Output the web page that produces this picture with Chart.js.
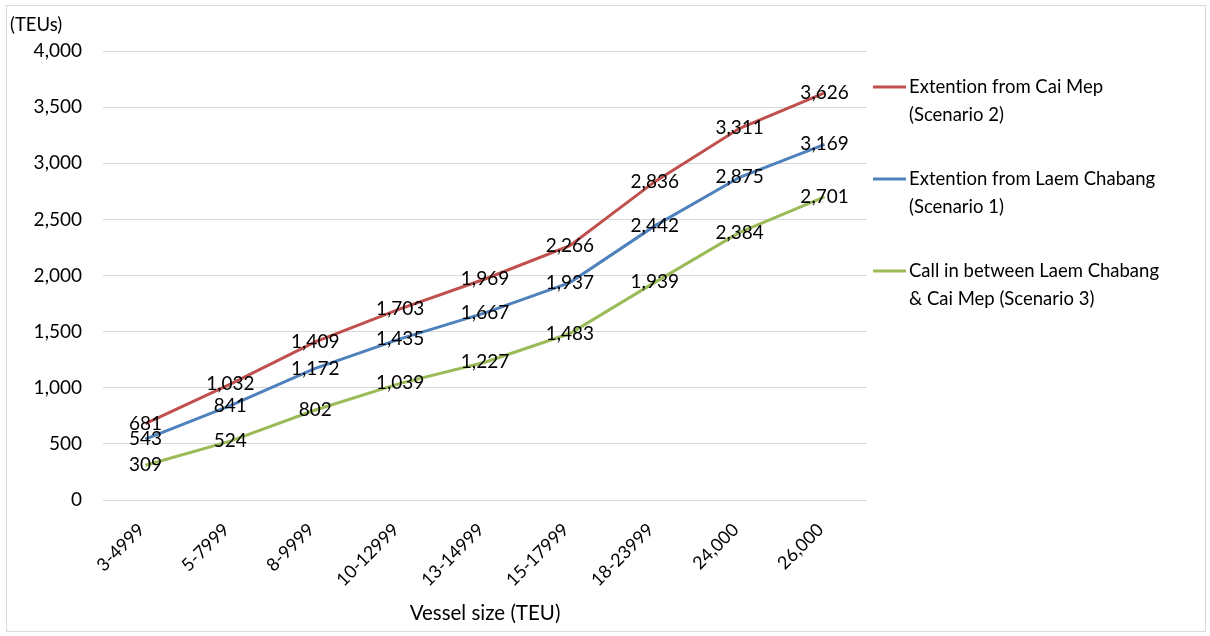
<!DOCTYPE html>
<html>
<head>
<meta charset="utf-8">
<script src="https://cdn.jsdelivr.net/npm/chart.js@4"></script>
<style>
  html, body { margin: 0; padding: 0; background: #fff; }
  #frame { position: absolute; left: 6px; top: 5px; width: 1200px; height: 627px; border: 1px solid #d9d9d9; box-sizing: border-box; }
  #wrap { position: absolute; left: 0; top: 0; width: 1210px; height: 636px; }
</style>
</head>
<body>
<div id="frame"></div>
<div id="wrap"><canvas id="c" width="1210" height="636"></canvas></div>
<script>
// Vessel size classes (TEU)
const categories = ['3-4999', '5-7999', '8-9999', '10-12999', '13-14999', '15-17999', '18-23999', '24,000', '26,000'];

// Throughput per scenario (TEUs)
const caiMep = [681, 1032, 1409, 1703, 1969, 2266, 2836, 3311, 3626];
const laemChabang = [543, 841, 1172, 1435, 1667, 1937, 2442, 2875, 3169];
const inBetween = [309, 524, 802, 1039, 1227, 1483, 1939, 2384, 2701];

const yTicks = [0, 500, 1000, 1500, 2000, 2500, 3000, 3500, 4000];

const seriesNames = [
  ['Extention from Cai Mep', '(Scenario 2)'],
  ['Extention from Laem Chabang', '(Scenario 1)'],
  ['Call in between Laem Chabang', '& Cai Mep (Scenario 3)']
];

const FONT = 'Lato, "Open Sans", sans-serif';
const fmt = v => v.toLocaleString('en-US');

// Value labels centred on each point
const valueLabels = {
  id: 'valueLabels',
  afterDatasetsDraw(chart) {
    const ctx = chart.ctx;
    ctx.save();
    ctx.font = '19px ' + FONT;
    ctx.fillStyle = '#000';
    ctx.textAlign = 'center';
    ctx.textBaseline = 'middle';
    chart.data.datasets.forEach((ds, i) => {
      chart.getDatasetMeta(i).data.forEach((pt, j) => {
        ctx.fillText(fmt(ds.data[j]), pt.x, pt.y);
      });
    });
    ctx.restore();
  }
};

// Right-hand legend with two-line entries, plus the unit caption
const sideLegend = {
  id: 'sideLegend',
  afterDraw(chart) {
    const ctx = chart.ctx;
    const area = chart.chartArea;
    ctx.save();
    ctx.textRendering = 'optimizeSpeed';
    ctx.font = '18.5px ' + FONT;
    ctx.textBaseline = 'middle';
    ctx.textAlign = 'left';
    const x0 = area.right + 6;
    chart.data.datasets.forEach((ds, i) => {
      const y = 87 + i * 92;
      ctx.strokeStyle = ds.borderColor;
      ctx.lineWidth = 3;
      ctx.beginPath();
      ctx.moveTo(x0, y);
      ctx.lineTo(x0 + 33, y);
      ctx.stroke();
      ctx.fillStyle = '#000';
      seriesNames[i].forEach((line, k) => ctx.fillText(line, x0 + 36, y + k * 28));
    });
    ctx.fillText('(TEUs)', 10, 25);
    ctx.restore();
  }
};

new Chart(document.getElementById('c'), {
  type: 'line',
  data: {
    labels: categories,
    datasets: [
      { label: seriesNames[0].join(' '), data: caiMep, borderColor: '#C0504D' },
      { label: seriesNames[1].join(' '), data: laemChabang, borderColor: '#4F81BD' },
      { label: seriesNames[2].join(' '), data: inBetween, borderColor: '#9BBB59' }
    ].map(d => Object.assign(d, { borderWidth: 3, pointRadius: 0, tension: 0, fill: false }))
  },
  options: {
    responsive: false,
    animation: false,
    layout: { padding: { left: 0, right: 343, top: 51, bottom: 0 } },
    plugins: { legend: { display: false }, tooltip: { enabled: false } },
    scales: {
      x: {
        offset: true,
        grid: { display: false },
        border: { display: false },
        ticks: { color: '#000', font: { size: 18, family: FONT }, minRotation: 45, maxRotation: 45, padding: 11, labelOffset: -4 },
        title: { display: true, text: 'Vessel size (TEU)', color: '#000', font: { size: 20.5, family: FONT }, padding: { top: 0, bottom: 10 } },
        afterFit(s) { s.height = 136; }
      },
      y: {
        min: 0, max: 4000,
        afterBuildTicks(s) { s.ticks = yTicks.map(v => ({ value: v })); },
        grid: { color: '#d9d9d9', lineWidth: 1, drawTicks: false },
        border: { display: false },
        ticks: { color: '#000', font: { size: 19, family: FONT }, padding: 21, callback: v => fmt(v) },
        afterFit(s) { s.width = 103; }
      }
    }
  },
  plugins: [valueLabels, sideLegend]
});
</script>
</body>
</html>
